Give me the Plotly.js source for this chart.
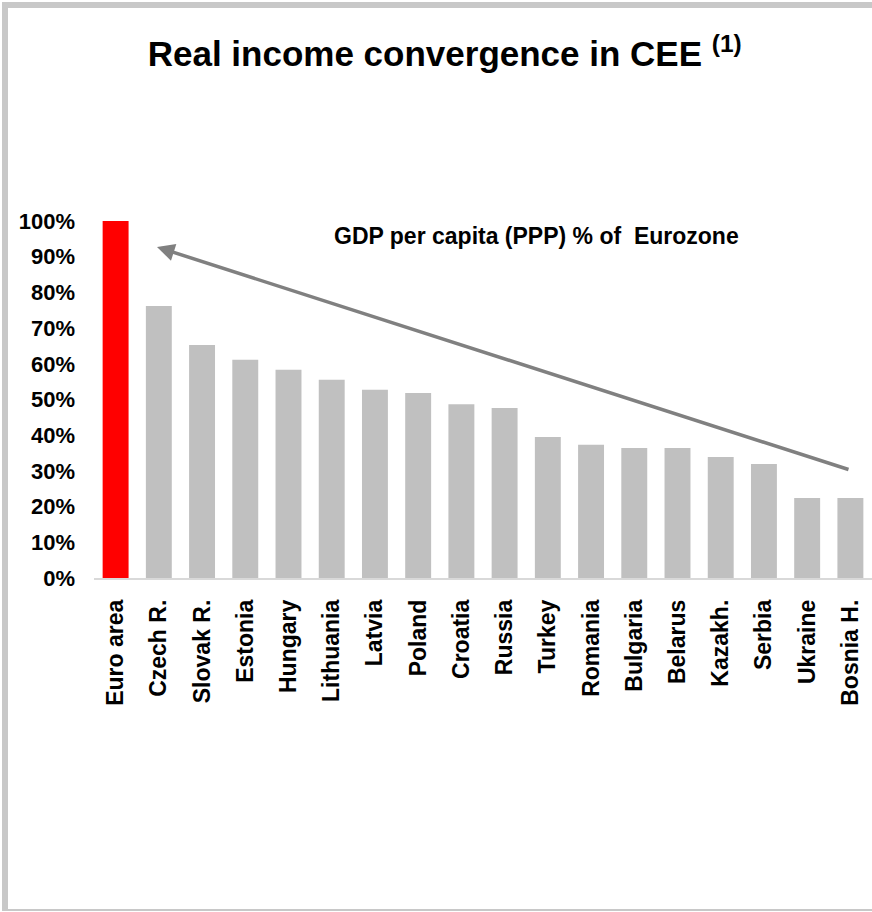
<!DOCTYPE html>
<html>
<head>
<meta charset="utf-8">
<script src="https://cdn.plot.ly/plotly-3.0.1.min.js"></script>
<style>
  html, body { margin: 0; padding: 0; background: #ffffff; overflow: hidden; }
  #chart { width: 872px; height: 912px; }
  #frame { position: absolute; left: 2px; top: 2px; width: 870px; height: 909px; box-sizing: border-box;
           border-top: 6px solid #c8c8c8; border-left: 6px solid #c8c8c8; border-bottom: 2px solid #c8c8c8;
           pointer-events: none; }
</style>
</head>
<body>
<div id="chart"></div>
<div id="frame"></div>
<script>
const countries = ["Euro area", "Czech R.", "Slovak R.", "Estonia", "Hungary", "Lithuania", "Latvia", "Poland",
  "Croatia", "Russia", "Turkey", "Romania", "Bulgaria", "Belarus", "Kazakh.", "Serbia", "Ukraine", "Bosnia H."];
const gdpPctEurozone = [1.00, 0.762, 0.653, 0.611, 0.583, 0.555, 0.527, 0.518,
  0.487, 0.476, 0.395, 0.373, 0.364, 0.364, 0.339, 0.319, 0.224, 0.224];
const barColors = countries.map((c, i) => i === 0 ? "#ff0000" : "#c0c0c0");

const font = "Liberation Sans, Arial, sans-serif";

const trace = {
  type: "bar",
  x: countries,
  y: gdpPctEurozone,
  marker: { color: barColors, line: { width: 0 } },
  hoverinfo: "x+y"
};

const layout = {
  width: 872,
  height: 912,
  margin: { l: 94, r: 0, t: 221, b: 334 },
  paper_bgcolor: "#ffffff",
  plot_bgcolor: "#ffffff",
  showlegend: false,
  bargap: 0.4,
  font: { family: font, color: "#000000" },
  title: {
    text: "<b>Real income convergence in CEE <sup>(1)</sup></b>",
    font: { family: font, size: 35, color: "#000000" },
    xref: "container", x: 0.51, xanchor: "center",
    yref: "container", y: 1 - 54 / 912, yanchor: "middle"
  },
  xaxis: {
    type: "category",
    tickangle: -90,
    tickfont: { family: font, size: 23, color: "#000000", weight: "bold" },
    showgrid: false,
    showline: true,
    linecolor: "#d9d9d9",
    linewidth: 1.5,
    ticks: "",
    ticklabelstandoff: 11,
    zeroline: false,
    fixedrange: true
  },
  yaxis: {
    range: [0, 1],
    dtick: 0.1,
    tick0: 0,
    tickformat: ".0%",
    tickfont: { family: font, size: 22, color: "#000000", weight: "bold" },
    showgrid: false,
    showline: false,
    zeroline: false,
    ticks: "",
    ticklabelstandoff: 18,
    fixedrange: true
  },
  annotations: [
    {
      xref: "paper", yref: "paper",
      x: 0.569, y: 0.958,
      text: "<b>GDP per capita (PPP) % of  Eurozone</b>",
      showarrow: false,
      font: { family: font, size: 23, color: "#000000" },
      xanchor: "center", yanchor: "middle"
    },
    {
      xref: "paper", yref: "paper",
      x: (157 - 94) / 778, y: (578 - 247) / 357,
      ax: 693, ay: 223,
      text: "",
      showarrow: true,
      arrowhead: 2,
      arrowsize: 1,
      arrowwidth: 3.5,
      arrowcolor: "#808080",
      standoff: 0
    }
  ]
};

Plotly.newPlot("chart", [trace], layout, { displayModeBar: false, staticPlot: true });
</script>
</body>
</html>
